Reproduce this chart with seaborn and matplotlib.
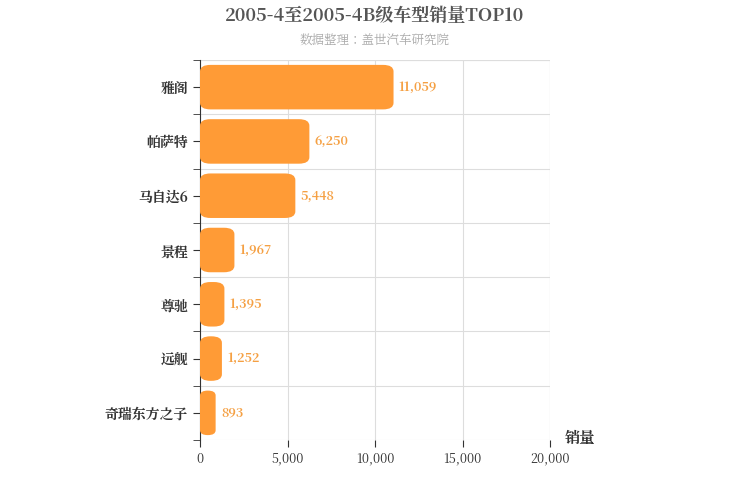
import matplotlib
matplotlib.use("Agg")
import matplotlib.pyplot as plt
from matplotlib import font_manager as fm
import seaborn as sns
import pandas as pd
import numpy as np
from matplotlib.patches import FancyBboxPatch

cjk = None
for f in fm.findSystemFonts():
    if "CJK" in f or "cjk" in f.lower():
        try:
            fm.fontManager.addfont(f)
        except Exception:
            pass
names = [f.name for f in fm.fontManager.ttflist if "CJK" in f.name]
pref = [n for n in names if "SC" in n] or names
if pref:
    cjk = pref[0]
plt.rcParams["font.family"] = "sans-serif"
plt.rcParams["font.sans-serif"] = ([cjk] if cjk else []) + ["Noto Sans CJK SC", "DejaVu Sans"]
plt.rcParams["axes.unicode_minus"] = False

models = ["雅阁", "帕萨特", "马自达6", "景程", "尊驰", "远舰", "奇瑞东方之子"]
sales = [11059, 6250, 5448, 1967, 1395, 1252, 893]
xticks = [0, 5000, 10000, 15000, 20000]

df = pd.DataFrame({"model": models, "sales": sales})
fig = plt.figure(figsize=(7.5, 5), dpi=100)
ax = fig.add_axes([200/750, 60/500, 350/750, 380/500])
color = "#FF9B36"
sns.barplot(data=df, y="model", x="sales", orient="h", color=color, width=0.82, ax=ax, saturation=1)

for p in list(ax.patches):
    x0, y0, w, h = p.get_x(), p.get_y(), p.get_width(), p.get_height()
    p.remove()
    fb = FancyBboxPatch((x0, y0), w, h, boxstyle="round,pad=0", facecolor=color,
                        edgecolor="none", zorder=3)
    fb.set_boxstyle("round", pad=0, rounding_size=min(600, w/2))
    fb.set_mutation_aspect(0.12/600)
    ax.add_patch(fb)

for i, v in enumerate(sales):
    ax.text(v + 300, i, f"{v:,}", va="center", ha="left", color="#F5A043", fontsize=9, fontweight="bold")

ax.set_xlim(0, 20000)
ax.set_ylim(6.5, -0.5)
ax.set_xticks(xticks)
ax.set_xticklabels([f"{t:,}" for t in xticks], fontsize=9, color="#333")
ax.set_yticks(range(len(models)))
ax.set_yticklabels(models, fontsize=10, fontweight="bold", color="#333")
ax.set_yticks(np.arange(-0.5, len(models), 1), minor=True)
ax.grid(axis="x", color="#dddddd", lw=0.8, zorder=0)
ax.grid(axis="y", which="minor", color="#dddddd", lw=0.8, zorder=0)
ax.grid(axis="y", which="major", visible=False)
ax.set_axisbelow(True)
ax.tick_params(axis="y", which="both", length=5, color="#333")
ax.tick_params(axis="x", length=5, color="#333")
for s in ["top", "right"]:
    ax.spines[s].set_visible(False)
ax.spines["bottom"].set_visible(False)
ax.spines["left"].set_color("#333")
ax.plot([1, 1], [0, 1], transform=ax.transAxes, color="#dddddd", lw=0.8)
ax.plot([0, 1], [1, 1], transform=ax.transAxes, color="#dddddd", lw=0.8)
ax.set_xlabel("")
ax.set_ylabel("")
fig.text(565/750, 1-438/500, "销量", fontsize=11, fontweight="bold", color="#333", va="center")
fig.text(0.5, 1-16/500, "2005-4至2005-4B级车型销量TOP10", ha="center", va="center",
         fontsize=13, fontweight="bold", color="#555")
fig.text(0.5, 1-41/500, "数据整理：盖世汽车研究院", ha="center", va="center", fontsize=9, color="#aaa")
fig.savefig("out.png", dpi=100)
